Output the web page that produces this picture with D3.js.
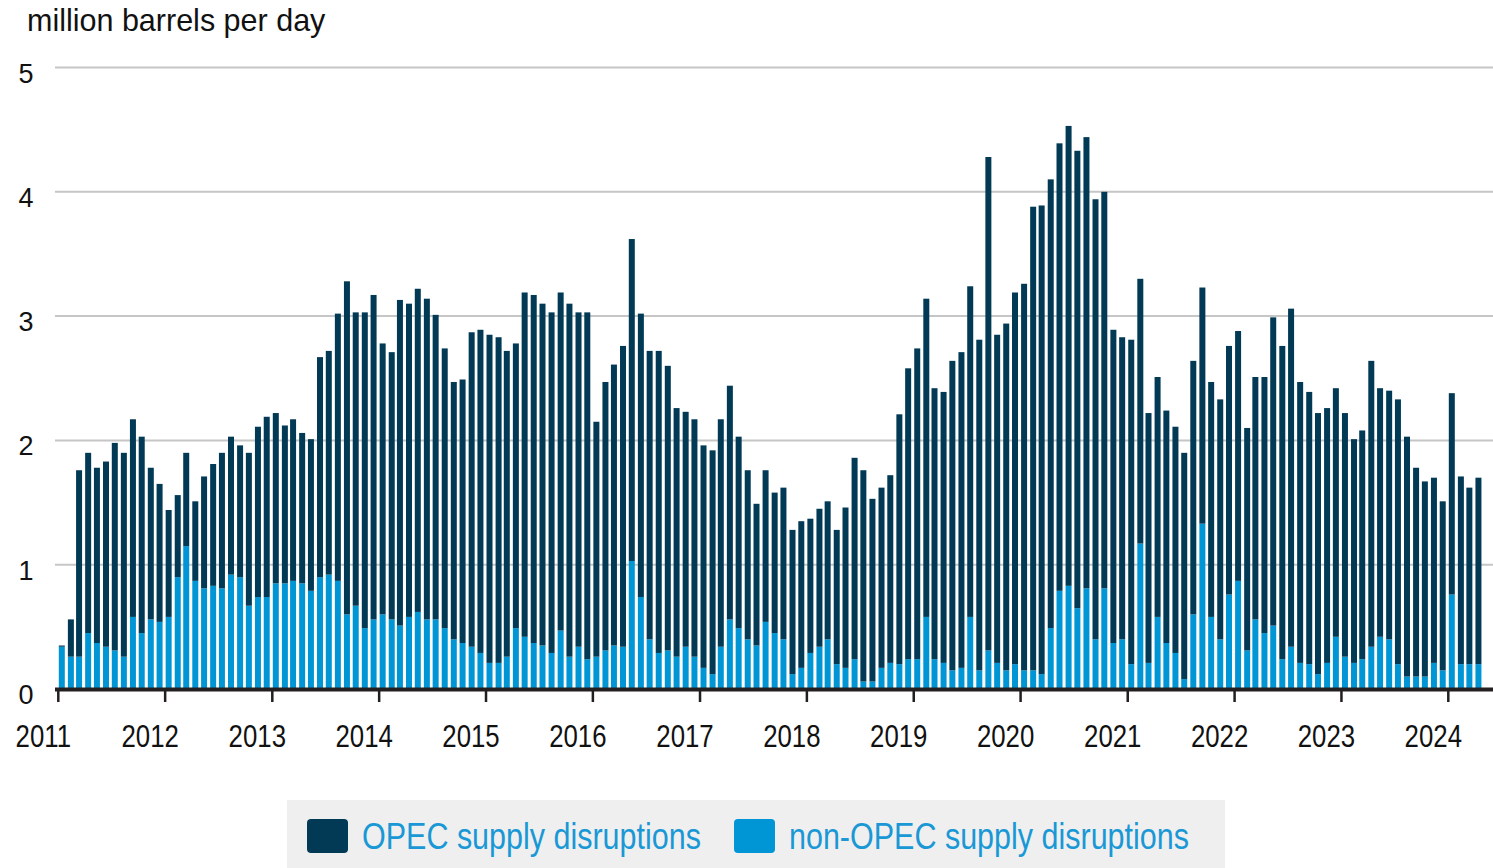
<!DOCTYPE html>
<html>
<head>
<meta charset="utf-8">
<script src="https://cdn.jsdelivr.net/npm/d3@7"></script>
<style>
  body { margin: 0; background: #ffffff; }
  svg { display: block; font-family: "Liberation Sans", Arial, sans-serif; }
</style>
</head>
<body>
<script>
// -----------------------------
// Data (million barrels per day), monthly Jan 2011 - Apr 2024
// -----------------------------
const FIRST_MONTH = new Date(2011, 0, 1);
const LAST_MONTH = new Date(2024, 3, 1);

const opecDisruptions = [
  0.01, 0.30, 1.50, 1.45, 1.41, 1.49, 1.67, 1.64, 1.59, 1.58, 1.22, 1.11, // 2011
  0.86, 0.66, 0.75, 0.64, 0.90, 0.98, 1.09, 1.11, 1.06, 1.23, 1.37, 1.45, // 2012
  1.37, 1.27, 1.30, 1.21, 1.22, 1.77, 1.80, 2.15, 2.68, 2.36, 2.54, 2.61, // 2013
  2.18, 2.15, 2.62, 2.52, 2.60, 2.58, 2.45, 2.25, 2.07, 2.12, 2.53, 2.60, // 2014
  2.64, 2.62, 2.46, 2.29, 2.77, 2.80, 2.75, 2.74, 2.72, 2.84, 2.69, 2.79, // 2015
  1.89, 2.16, 2.26, 2.42, 2.59, 2.28, 2.32, 2.43, 2.29, 2.00, 1.89, 1.91, // 2016
  1.79, 1.80, 1.83, 1.88, 1.54, 1.36, 1.14, 1.22, 1.13, 1.22, 1.16, 1.18, // 2017
  1.08, 1.11, 1.11, 1.08, 1.29, 1.62, 1.70, 1.47, 1.45, 1.51, 2.01, 2.34, // 2018
  2.50, 2.56, 2.18, 2.18, 2.49, 2.54, 2.66, 2.66, 3.97, 2.64, 2.79, 2.99, // 2019
  3.11, 3.73, 3.77, 3.61, 3.60, 3.70, 3.68, 3.63, 3.54, 3.19, 2.52, 2.43, // 2020
  2.61, 2.13, 2.01, 1.93, 1.87, 1.82, 1.82, 2.04, 1.90, 1.89, 1.93, 2.00, // 2021
  2.01, 1.79, 1.95, 2.06, 2.48, 2.52, 2.72, 2.26, 2.19, 2.10, 2.05, 2.00, // 2022
  1.96, 1.80, 1.84, 2.30, 2.00, 2.00, 2.13, 1.93, 1.68, 1.57, 1.49, 1.36, // 2023
  1.62, 1.51, 1.42, 1.50                                                  // 2024
];

const nonOpecDisruptions = [
  0.34, 0.26, 0.26, 0.45, 0.37, 0.34, 0.31, 0.26, 0.58, 0.45, 0.56, 0.54, // 2011
  0.58, 0.90, 1.15, 0.87, 0.81, 0.83, 0.81, 0.92, 0.90, 0.67, 0.74, 0.74, // 2012
  0.85, 0.85, 0.87, 0.85, 0.79, 0.90, 0.92, 0.87, 0.60, 0.67, 0.49, 0.56, // 2013
  0.60, 0.56, 0.51, 0.58, 0.62, 0.56, 0.56, 0.49, 0.40, 0.37, 0.34, 0.29, // 2014
  0.21, 0.21, 0.26, 0.49, 0.42, 0.37, 0.35, 0.29, 0.47, 0.26, 0.34, 0.24, // 2015
  0.26, 0.31, 0.35, 0.34, 1.03, 0.74, 0.40, 0.29, 0.31, 0.26, 0.34, 0.26, // 2016
  0.17, 0.12, 0.34, 0.56, 0.49, 0.40, 0.35, 0.54, 0.45, 0.40, 0.12, 0.17, // 2017
  0.29, 0.34, 0.40, 0.20, 0.17, 0.24, 0.06, 0.06, 0.17, 0.21, 0.20, 0.24, // 2018
  0.24, 0.58, 0.24, 0.21, 0.15, 0.17, 0.58, 0.15, 0.31, 0.21, 0.15, 0.20, // 2019
  0.15, 0.15, 0.12, 0.49, 0.79, 0.83, 0.65, 0.81, 0.40, 0.81, 0.37, 0.40, // 2020
  0.20, 1.17, 0.21, 0.58, 0.37, 0.29, 0.08, 0.60, 1.33, 0.58, 0.40, 0.76, // 2021
  0.87, 0.31, 0.56, 0.45, 0.51, 0.24, 0.34, 0.21, 0.20, 0.12, 0.21, 0.42, // 2022
  0.26, 0.21, 0.24, 0.34, 0.42, 0.40, 0.20, 0.10, 0.10, 0.10, 0.21, 0.15, // 2023
  0.76, 0.20, 0.20, 0.20                                                  // 2024
];

const yearTicks = [2011, 2012, 2013, 2014, 2015, 2016, 2017, 2018, 2019, 2020, 2021, 2022, 2023, 2024];
const valueTicks = [0, 1, 2, 3, 4, 5];
const seriesNames = ["OPEC supply disruptions", "non-OPEC supply disruptions"];

// -----------------------------
// SVG Setup
// -----------------------------
const WIDTH = 1493;
const HEIGHT = 868;

const COLOR_OPEC = "#023a55";
const COLOR_NON_OPEC = "#0096d6";

// the source text is drawn a bit taller than wide
const TEXT_STRETCH = 1.24;

const svg = d3.select("body")
  .append("svg")
  .attr("viewBox", `0 0 ${WIDTH} ${HEIGHT}`)
  .attr("width", WIDTH)
  .attr("height", HEIGHT);

// Stack rows: non-OPEC at the bottom, OPEC on top
const months = d3.timeMonth.range(FIRST_MONTH, d3.timeMonth.offset(LAST_MONTH, 1));
const rows = months.map((m, i) => ({
  month: m,
  nonOpec: nonOpecDisruptions[i],
  opec: opecDisruptions[i]
}));
const stacked = d3.stack().keys(["nonOpec", "opec"])(rows);

// Scales
const x = d3.scaleTime()
  .domain([new Date(2011, 0, 1), new Date(2024, 0, 1)])
  .range([58.3, 1448.3]);

const y = d3.scaleLinear()
  .domain([0, 5])
  .range([689, 67.5]);

const GRID_LEFT = 55;
const GRID_RIGHT = WIDTH;
const BAR_WIDTH = 6;

// -----------------------------
// Gridlines and y labels
// -----------------------------
svg.append("g")
  .selectAll("line")
  .data(valueTicks.filter(d => d > 0))
  .enter()
  .append("line")
  .attr("x1", GRID_LEFT)
  .attr("x2", GRID_RIGHT)
  .attr("y1", d => y(d))
  .attr("y2", d => y(d))
  .attr("stroke", "#c6c6c6")
  .attr("stroke-width", 2);

svg.append("g")
  .selectAll("text")
  .data(valueTicks)
  .enter()
  .append("text")
  .attr("x", 26)
  .attr("y", d => y(d) + 15)
  .attr("text-anchor", "middle")
  .attr("font-size", 27)
  .attr("fill", "#111")
  .text(d => d);

// Title
svg.append("text")
  .attr("x", 27)
  .attr("y", 31)
  .attr("font-size", 30.5)
  .attr("fill", "#111")
  .text("million barrels per day");

// -----------------------------
// Bars
// -----------------------------
const colors = { nonOpec: COLOR_NON_OPEC, opec: COLOR_OPEC };

svg.append("g")
  .selectAll("g")
  .data(stacked)
  .enter()
  .append("g")
  .attr("fill", d => colors[d.key])
  .selectAll("rect")
  .data(d => d)
  .enter()
  .append("rect")
  .attr("x", d => x(d.data.month) + 0.5)
  .attr("width", BAR_WIDTH)
  .attr("y", d => y(d[1]))
  .attr("height", d => y(d[0]) - y(d[1]));

// -----------------------------
// X axis
// -----------------------------
svg.append("line")
  .attr("x1", GRID_LEFT)
  .attr("x2", GRID_RIGHT)
  .attr("y1", 689.5)
  .attr("y2", 689.5)
  .attr("stroke", "#231f20")
  .attr("stroke-width", 4);

const xAxis = svg.append("g");

xAxis.selectAll("line")
  .data(yearTicks)
  .enter()
  .append("line")
  .attr("x1", d => x(new Date(d, 0, 1)))
  .attr("x2", d => x(new Date(d, 0, 1)))
  .attr("y1", 690)
  .attr("y2", 702)
  .attr("stroke", "#231f20")
  .attr("stroke-width", 2.5);

xAxis.selectAll("text")
  .data(yearTicks)
  .enter()
  .append("text")
  .attr("transform", d => `translate(${x(new Date(d, 0, 1)) - 15}, 747) scale(1, ${TEXT_STRETCH})`)
  .attr("text-anchor", "middle")
  .attr("font-size", 25.8)
  .attr("fill", "#111")
  .text(d => d);

// -----------------------------
// Legend
// -----------------------------
const legend = svg.append("g");

legend.append("rect")
  .attr("x", 287)
  .attr("y", 800)
  .attr("width", 938)
  .attr("height", 68)
  .attr("fill", "#efefef");

const legendItems = [
  { name: seriesNames[0], color: COLOR_OPEC, x: 307 },
  { name: seriesNames[1], color: COLOR_NON_OPEC, x: 734 }
];

const item = legend.selectAll("g.item")
  .data(legendItems)
  .enter()
  .append("g")
  .attr("class", "item")
  .attr("transform", d => `translate(${d.x}, 819)`);

item.append("rect")
  .attr("width", 41)
  .attr("height", 34)
  .attr("rx", 4)
  .attr("fill", d => d.color);

item.append("text")
  .attr("transform", `translate(55, 30) scale(1, ${TEXT_STRETCH})`)
  .attr("font-size", 30.5)
  .attr("fill", "#1a98d5")
  .text(d => d.name);
</script>
</body>
</html>
